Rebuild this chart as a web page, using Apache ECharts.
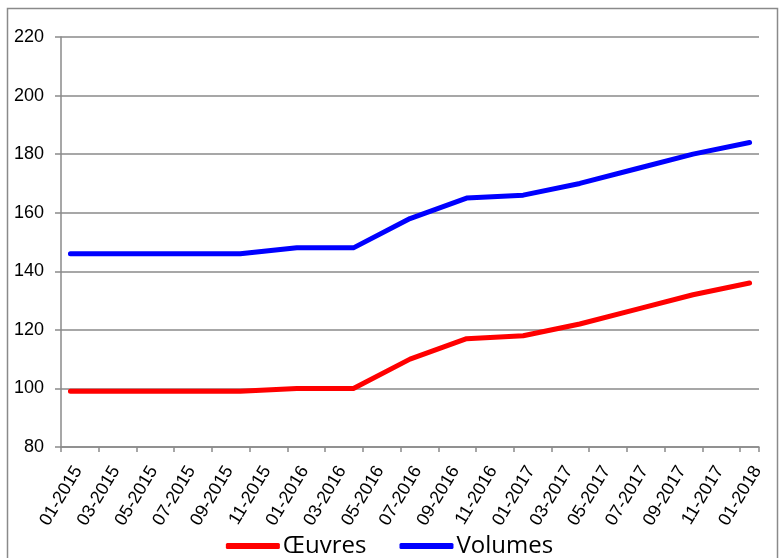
<!DOCTYPE html>
<html>
<head>
<meta charset="utf-8">
<script src="https://cdn.jsdelivr.net/npm/echarts@6/dist/echarts.min.js"></script>
<style>
html,body{margin:0;padding:0;background:#fff;}
#chart{width:779px;height:558px;}
</style>
</head>
<body>
<div id="chart"></div>
<script>
// Monthly category axis (01-2015 .. 01-2018)
var months = [
  '01-2015','02-2015','03-2015','04-2015','05-2015','06-2015','07-2015','08-2015','09-2015','10-2015','11-2015','12-2015',
  '01-2016','02-2016','03-2016','04-2016','05-2016','06-2016','07-2016','08-2016','09-2016','10-2016','11-2016','12-2016',
  '01-2017','02-2017','03-2017','04-2017','05-2017','06-2017','07-2017','08-2017','09-2017','10-2017','11-2017','12-2017',
  '01-2018'
];
// Observation dates (quarterly)
var obsDates = ['01-2015','04-2015','07-2015','10-2015','01-2016','04-2016','07-2016','10-2016','01-2017','04-2017','07-2017','10-2017','01-2018'];
var oeuvres = [99, 99, 99, 99, 100, 100, 110, 117, 118, 122, 127, 132, 136];
var volumes = [146, 146, 146, 146, 148, 148, 158, 165, 166, 170, 175, 180, 184];
var yTicks = { min: 80, max: 220, interval: 20 };

function pairs(vals){ return obsDates.map(function(d,i){ return [d, vals[i]]; }); }

var chart = echarts.init(document.getElementById('chart'), null, {renderer:'canvas'});
chart.setOption({
  animation: false,
  backgroundColor: '#fff',
  graphic: [{
    type: 'rect', silent: true, z: -10,
    shape: { x: 7.5, y: 8.5, width: 770, height: 560 },
    style: { fill: 'none', stroke: '#8a8a8a', lineWidth: 1.5 }
  }],
  grid: { left: 61, right: 20, top: 37, bottom: 111, containLabel: false },
  legend: {
    top: 529, left: 'center',
    data: ['Œuvres', 'Volumes'],
    icon: 'roundRect',
    itemWidth: 54, itemHeight: 6, itemGap: 33,
    textStyle: { fontFamily: 'Open Sans', fontSize: 24, color: '#000', padding: [0,0,0,-2] }
  },
  xAxis: {
    type: 'category',
    data: months,
    boundaryGap: true,
    axisLine: { lineStyle: { color: '#8a8a8a', width: 1.5 } },
    axisTick: { show: true, interval: 1, length: 5, lineStyle: { color: '#8a8a8a', width: 1.5 } },
    axisLabel: { interval: 1, rotate: 59, margin: 16, align: 'right', verticalAlign: 'top',
      fontFamily: 'Arial, Liberation Sans', fontSize: 18, color: '#000' },
    splitLine: { show: false }
  },
  yAxis: {
    type: 'value',
    min: yTicks.min, max: yTicks.max, interval: yTicks.interval,
    axisLine: { show: true, lineStyle: { color: '#8a8a8a', width: 1.5 } },
    axisTick: { show: true, length: 6, lineStyle: { color: '#8a8a8a', width: 1.5 } },
    axisLabel: { margin: 17, fontFamily: 'Arial, Liberation Sans', fontSize: 18, color: '#000' },
    splitLine: { show: true, lineStyle: { color: '#8a8a8a', width: 1.5 } }
  },
  series: [
    { name: 'Œuvres', type: 'line', data: pairs(oeuvres), symbol: 'none',
      itemStyle: { color: '#ff0000' },
      lineStyle: { color: '#ff0000', width: 5, cap: 'round', join: 'round' } },
    { name: 'Volumes', type: 'line', data: pairs(volumes), symbol: 'none',
      itemStyle: { color: '#0000ff' },
      lineStyle: { color: '#0000ff', width: 5, cap: 'round', join: 'round' } }
  ]
});
</script>
</body>
</html>
